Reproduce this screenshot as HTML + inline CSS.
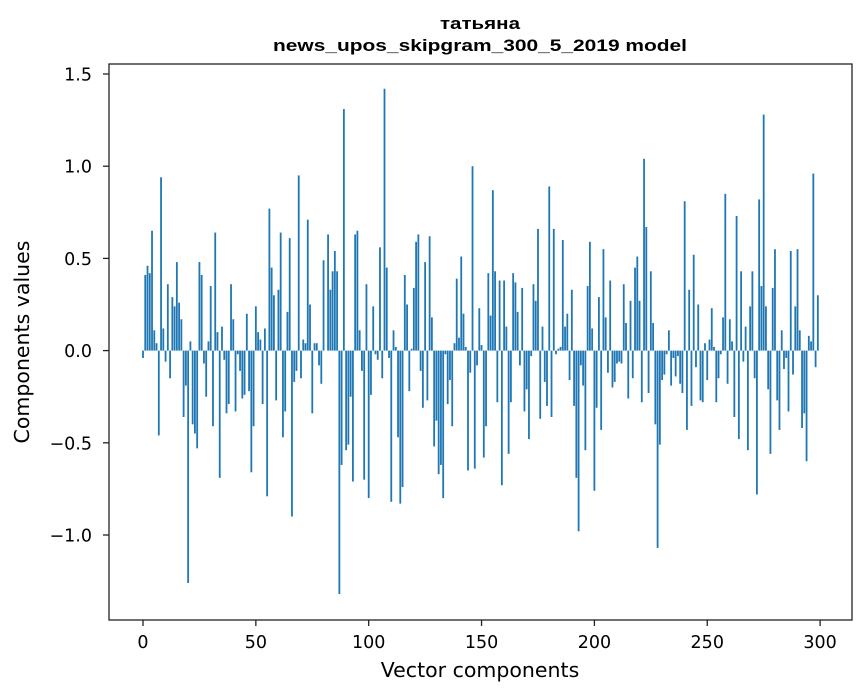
<!DOCTYPE html>
<html><head><meta charset="utf-8"><style>
html,body{margin:0;padding:0;background:#fff;}
svg{display:block;font-family:"DejaVu Sans","Liberation Sans",sans-serif;}
</style></head><body>
<svg id="chart" width="867" height="696">
<rect width="867" height="696" fill="#fff"/>
<text x="480" y="29" text-anchor="middle" font-family="Liberation Sans, sans-serif" font-size="17" font-weight="bold" textLength="80" lengthAdjust="spacingAndGlyphs">татьяна</text>
<text x="480" y="51" text-anchor="middle" font-family="Liberation Sans, sans-serif" font-size="17" font-weight="bold" textLength="414" lengthAdjust="spacingAndGlyphs">news_upos_skipgram_300_5_2019 model</text>
<g id="bars"></g>
<g id="axes"></g>
<text x="480" y="677" text-anchor="middle" font-size="20.5">Vector components</text>
<text transform="translate(29,342) rotate(-90)" text-anchor="middle" font-size="20.5">Components values</text>
</svg>
<script>
const values = [
-0.04,0.41,0.46,0.42,0.65,0.11,0.04,-0.46,0.94,0.12,
-0.06,0.36,-0.15,0.29,0.24,0.48,0.26,0.17,-0.36,-0.19,
-1.26,0.05,-0.40,-0.45,-0.53,0.48,0.41,-0.07,-0.25,0.05,
0.35,-0.41,0.64,0.10,-0.69,0.13,-0.05,-0.34,-0.29,0.36,
0.17,-0.33,-0.02,-0.11,-0.26,-0.24,0.20,-0.22,-0.66,-0.41,
0.24,0.10,0.06,-0.29,0.12,-0.79,0.77,0.45,0.30,-0.27,
0.33,0.64,-0.47,-0.33,0.21,0.61,-0.90,-0.17,-0.11,0.95,
-0.15,0.06,0.04,0.71,0.25,-0.34,0.04,0.04,-0.08,-0.18,
0.49,0.00,0.63,0.33,0.43,0.54,0.43,-1.32,-0.62,1.31,
-0.54,-0.51,-0.25,-0.71,0.63,0.65,0.11,-0.11,-0.70,0.36,
-0.80,-0.24,0.24,-0.02,-0.05,0.56,-0.15,1.42,0.45,-0.04,
-0.82,0.11,0.02,-0.47,-0.83,-0.74,0.41,0.25,-0.22,0.01,
0.34,0.59,0.63,-0.11,-0.31,0.48,-0.27,0.62,0.18,-0.52,
-0.38,-0.67,-0.62,-0.80,-0.02,-0.29,-0.16,-0.41,0.04,0.39,
0.07,0.51,0.20,0.02,-0.65,-0.12,1.00,-0.64,-0.08,0.23,
0.03,-0.58,-0.41,0.42,0.19,0.87,0.43,-0.28,0.38,-0.73,
0.38,0.13,-0.56,-0.28,0.42,0.37,0.21,-0.08,0.34,-0.33,
-0.21,-0.48,-0.03,0.36,0.27,0.66,-0.37,0.13,-0.17,-0.30,
0.89,-0.36,0.66,-0.02,0.01,0.02,0.60,0.13,0.20,-0.16,
0.33,-0.30,-0.69,-0.98,-0.08,-0.19,-0.54,0.35,0.59,0.12,
-0.76,-0.31,0.29,-0.43,0.55,0.18,-0.12,0.38,-0.20,-0.17,
-0.07,-0.06,-0.07,0.36,0.15,-0.26,0.27,-0.15,0.45,0.51,
0.27,-0.28,1.04,0.67,-0.23,0.43,0.15,-0.40,-1.07,-0.51,
-0.16,-0.13,-0.02,0.11,-0.19,-0.04,-0.14,-0.03,-0.18,-0.23,
0.81,-0.43,0.33,-0.30,0.52,-0.09,0.25,-0.27,-0.28,0.04,
-0.16,0.06,0.23,0.02,-0.28,-0.15,-0.02,0.18,0.85,-0.18,
0.17,0.05,-0.36,0.73,-0.48,0.43,-0.06,0.13,-0.54,0.24,
0.43,-0.15,-0.78,0.82,0.35,1.28,0.24,-0.21,-0.56,0.34,
0.55,-0.27,-0.43,0.11,-0.10,-0.04,-0.33,0.54,-0.13,0.24,
0.55,0.11,-0.42,-0.34,-0.60,0.08,0.05,0.96,-0.09,0.30
];
const xTicks = [0,50,100,150,200,250,300];
const yTicks = [-1.0,-0.5,0.0,0.5,1.0,1.5];
const yTickLabels = ["\u22121.0","\u22120.5","0.0","0.5","1.0","1.5"];

const NS="http://www.w3.org/2000/svg";
const L=109,R=852,T=64,B=620;
function xs(i){return 143+(820.1-143)*i/300;}
function ys(v){return 350.6-v*184.4;}
const bars=document.getElementById('bars');
const bw=xs(0.8)-xs(0);
values.forEach((v,i)=>{
  const r=document.createElementNS(NS,'rect');
  
  
  const y0=ys(0),y1=ys(v);
  r.setAttribute('x',xs(i)-bw/2);
  r.setAttribute('width',bw);
  r.setAttribute('y',Math.min(y0,y1));
  r.setAttribute('height',Math.abs(y1-y0));
  r.setAttribute('fill','#1f77b4');
  bars.appendChild(r);
});
const ax=document.getElementById('axes');
const frame=document.createElementNS(NS,'rect');


frame.setAttribute('x',L);frame.setAttribute('y',T);
frame.setAttribute('width',R-L);frame.setAttribute('height',B-T);
frame.setAttribute('fill','none');frame.setAttribute('stroke','#222');frame.setAttribute('stroke-width','1.3');
ax.appendChild(frame);
xTicks.forEach(t=>{
  const x=xs(t);
  const l=document.createElementNS(NS,'line');
  
  
  l.setAttribute('x1',x);l.setAttribute('x2',x);l.setAttribute('y1',B);l.setAttribute('y2',B+6);
  l.setAttribute('stroke','#222');l.setAttribute('stroke-width','1.3');
  ax.appendChild(l);
  const tx=document.createElementNS(NS,'text');
  
  
  tx.setAttribute('x',x);tx.setAttribute('y',B+28);
  tx.setAttribute('text-anchor','middle');tx.setAttribute('font-size','17.5');
  tx.textContent=String(t);
  ax.appendChild(tx);
});
yTicks.forEach((t,k)=>{
  const y=ys(t);
  const l=document.createElementNS(NS,'line');
  
  
  l.setAttribute('x1',L-6);l.setAttribute('x2',L);l.setAttribute('y1',y);l.setAttribute('y2',y);
  l.setAttribute('stroke','#222');l.setAttribute('stroke-width','1.3');
  ax.appendChild(l);
  const tx=document.createElementNS(NS,'text');
  
  
  tx.setAttribute('x',L-17);tx.setAttribute('y',y+6.5);
  tx.setAttribute('text-anchor','end');tx.setAttribute('font-size','17.5');
  tx.textContent=yTickLabels[k];
  ax.appendChild(tx);
});
</script>
</body></html>
